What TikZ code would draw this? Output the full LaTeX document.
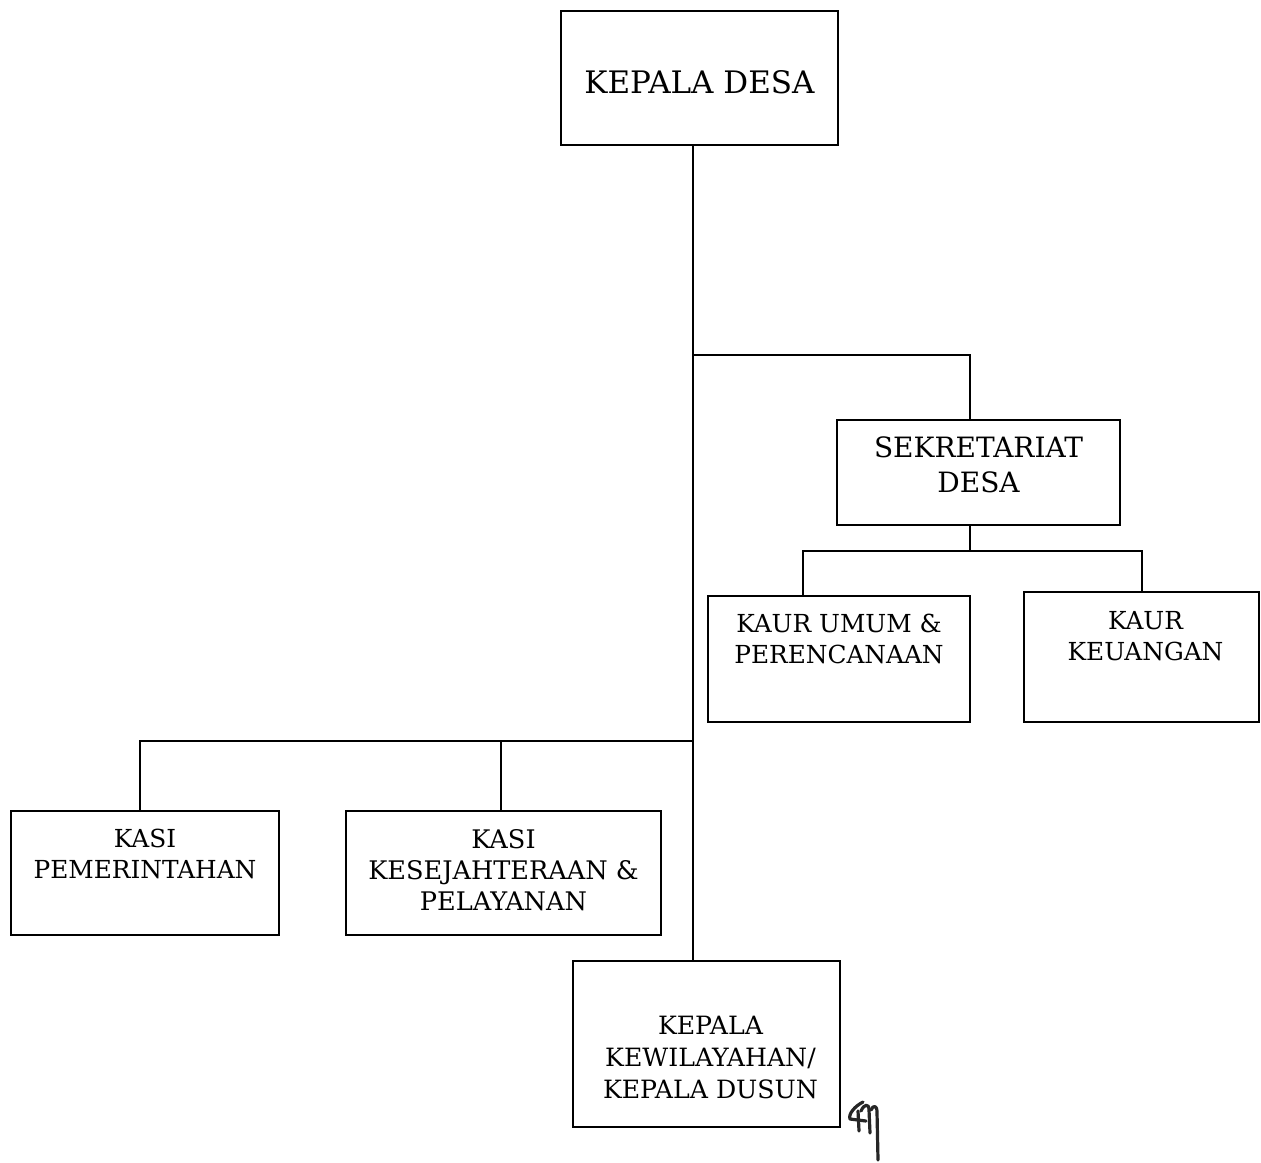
\documentclass[tikz,border=0pt]{standalone}
\usepackage{fontspec}
\setmainfont{DejaVu Serif}
\usepackage{tikz}
\usetikzlibrary{positioning}
\tikzset{
  orgbox/.style={
    draw=black,fill=white,line width=1.3pt,inner sep=0pt
  },
  orgtext/.style={
    anchor=north,align=center,inner sep=0pt,
    font=\fontsize{12.4}{15.5}\selectfont
  },
  link/.style={draw=black,line width=1.2pt},
  sign/.style={draw=black!85,line width=1.6pt,line cap=round,line join=round}
}
\begin{document}
\begin{tikzpicture}[x=0.5pt,y=-0.5pt]
\useasboundingbox (0,0) rectangle (1261,1162);
\fill[white] (0,0) rectangle (1261,1162);
\node[orgbox,minimum width=138.5pt,minimum height=67pt] (kades) at (699.5,78) {};
\node[orgbox,minimum width=141.5pt,minimum height=52.5pt] (sekdes) at (978.5,472.5) {};
\node[orgbox,minimum width=131pt,minimum height=63pt] (kaurum) at (839,659) {};
\node[orgbox,minimum width=117.5pt,minimum height=65pt] (kaurkeu) at (1141.5,657) {};
\node[orgbox,minimum width=134pt,minimum height=62pt] (kasipem) at (145,873) {};
\node[orgbox,minimum width=157.5pt,minimum height=62pt] (kasikes) at (503.5,873) {};
\node[orgbox,minimum width=133.5pt,minimum height=83pt] (kadus) at (706.5,1044) {};
\node[orgtext,font=\fontsize{15.5}{17}\selectfont,below=30pt of kades.north] (kadest) {KEPALA DESA};
\node[orgtext,font=\fontsize{14}{17.5}\selectfont,below=9pt of sekdes.north] (sekdest) {SEKRETARIAT\\DESA};
\node[orgtext,below=9.5pt of kaurum.north] (kaurumt) {KAUR UMUM \&\\PERENCANAAN};
\node[orgtext,below=10pt of kaurkeu.north,xshift=2pt] (kaurkeut) {KAUR\\KEUANGAN};
\node[orgtext,below=9.5pt of kasipem.north] (kasipemt) {KASI\\PEMERINTAHAN};
\node[orgtext,font=\fontsize{12.8}{15.5}\selectfont,below=9.5pt of kasikes.north] (kasikest) {KASI\\KESEJAHTERAAN \&\\PELAYANAN};
\node[orgtext,font=\fontsize{12.6}{16}\selectfont,below=28pt of kadus.north,xshift=2pt] (kadust) {KEPALA\\KEWILAYAHAN/\\KEPALA DUSUN};
\coordinate (spine) at (693,355);
\coordinate (jsek) at (970,355);
\coordinate (jkaur) at (970,551);
\coordinate (dkaur) at (803,551);
\coordinate (dkeu) at (1142,551);
\coordinate (jkasi) at (693,741);
\coordinate (dpem) at (140,741);
\coordinate (dkes) at (501,741);
\draw[link] (spine |- kades.south) -- (spine |- kadus.north);
\draw[link] (spine) -- (jsek) -- (jsek |- sekdes.north);
\draw[link] (jsek |- sekdes.south) -- (jkaur);
\draw[link] (dkaur |- kaurum.north) -- (dkaur) -- (dkeu) -- (dkeu |- kaurkeu.north);
\draw[link] (dpem |- kasipem.north) -- (dpem) -- (jkasi);
\draw[link] (dkes) -- (dkes |- kasikes.north);
\draw[sign] (863,1102) .. controls (855,1106) and (848,1114) .. (850,1119) -- (866,1121);
\draw[sign] (858,1111) -- (859,1131);
\draw[sign] (861,1111) .. controls (864,1104) and (869,1103) .. (869,1110) -- (870,1133);
\draw[sign] (871,1110) .. controls (873,1105) and (877,1105) .. (877,1112) -- (878,1160);
\end{tikzpicture}
\end{document}
